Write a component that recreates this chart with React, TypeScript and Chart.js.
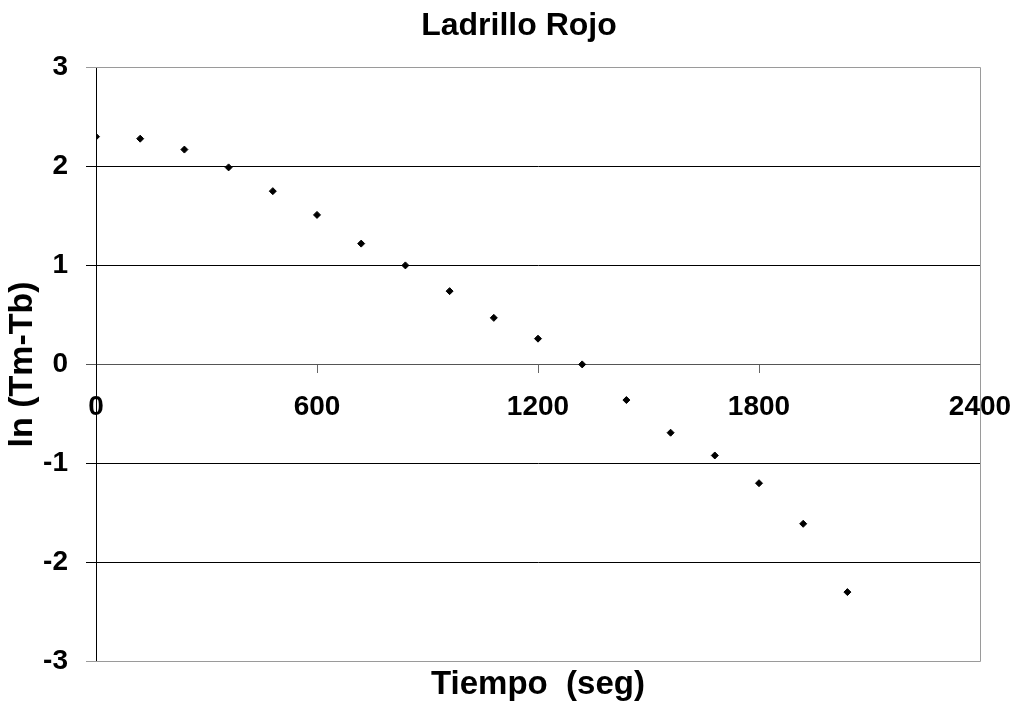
import React, { useEffect, useRef } from "react";
import { Chart, registerables } from "chart.js";

Chart.register(...registerables);

const TITLE = "Ladrillo Rojo";
const X_TITLE = "Tiempo  (seg)";
const Y_TITLE = "ln (Tm-Tb)";

const times = [0, 120, 240, 360, 480, 600, 720, 840, 960, 1080, 1200, 1320, 1440, 1560, 1680, 1800, 1920, 2040];
const lnValues = [2.3, 2.28, 2.17, 1.99, 1.75, 1.51, 1.22, 1.0, 0.74, 0.47, 0.26, 0.0, -0.36, -0.69, -0.92, -1.2, -1.61, -2.3];

const xMin = 0;
const xMax = 2400;
const xStep = 600;
const yMin = -3;
const yMax = 3;
const yStep = 1;

const FONT = "'Liberation Sans', Arial, Helvetica, sans-serif";

const framePlugin = {
  id: "frame",
  beforeDatasetsDraw(chart: any) {
    const { ctx, chartArea: a } = chart;
    const l = Math.round(a.left);
    const t = Math.round(a.top) + 0.5;
    const r = Math.round(a.right) + 0.5;
    const b = Math.round(a.bottom) + 0.5;
    ctx.save();
    ctx.strokeStyle = "#9a9a9a";
    ctx.lineWidth = 1;
    ctx.beginPath();
    ctx.moveTo(l, t);
    ctx.lineTo(r, t);
    ctx.lineTo(r, b);
    ctx.lineTo(l, b);
    ctx.stroke();
    ctx.restore();
  },
};

export default function App() {
  const ref = useRef<HTMLCanvasElement | null>(null);

  useEffect(() => {
    if (!ref.current) return;
    const chart = new Chart(ref.current, {
      type: "scatter",
      data: {
        datasets: [
          {
            label: Y_TITLE,
            data: times.map((t, i) => ({ x: t, y: lnValues[i] })),
            pointStyle: "rectRot",
            pointRadius: 3.5,
            borderWidth: 1,
            backgroundColor: "#000",
            borderColor: "#000",
            showLine: false,
          },
        ],
      },
      plugins: [framePlugin],
      options: {
        responsive: false,
        animation: false,
        devicePixelRatio: 1,
        layout: { padding: { left: 0, right: -18, top: 0, bottom: 0 } },
        plugins: {
          legend: { display: false },
          tooltip: { enabled: false },
          title: {
            display: true,
            text: TITLE,
            color: "#000",
            font: { family: FONT, size: 32, weight: "bold" },
            padding: { top: 7, bottom: 22 },
          },
          subtitle: {
            display: true,
            text: X_TITLE,
            position: "bottom",
            fullSize: false,
            color: "#000",
            font: { family: FONT, size: 33, weight: "bold" },
            padding: { top: 4, bottom: 5 },
          },
        },
        scales: {
          x: {
            type: "linear",
            position: { y: 0 },
            min: xMin,
            max: xMax,
            afterFit: (s: any) => {
              s.paddingLeft = 0;
              s.paddingRight = 0;
            },
            ticks: {
              stepSize: xStep,
              color: "#000",
              font: { family: FONT, size: 28, weight: "bold" },
              padding: 18,
              maxRotation: 0,
              callback: (v: any) => String(v),
            },
            grid: {
              drawOnChartArea: false,
              drawTicks: true,
              tickLength: 8,
              color: "#666",
            },
            border: { display: true, color: "#555", width: 1 },
          },
          y: {
            type: "linear",
            min: yMin,
            max: yMax,
            afterFit: (s: any) => {
              s.width = 96;
            },
            ticks: {
              stepSize: yStep,
              color: "#000",
              font: { family: FONT, size: 28, weight: "bold" },
              padding: 18,
            },
            grid: {
              drawTicks: true,
              tickLength: 10,
              color: (c: any) => {
                const v = c.tick ? c.tick.value : 0;
                if (v === yMax || v === yMin) return "#9a9a9a";
                if (v === 0) return "#555";
                return "#000";
              },
            },
            border: { display: true, color: "#000", width: 1 },
            title: {
              display: true,
              text: Y_TITLE,
              color: "#000",
              font: { family: FONT, size: 34, weight: "bold" },
              padding: { top: 2, bottom: 0 },
            },
          },
          yRight: {
            type: "linear",
            position: "right",
            display: true,
            min: yMin,
            max: yMax,
            afterFit: (s: any) => {
              s.width = 58;
            },
            ticks: { display: false },
            grid: { display: false, drawTicks: false },
            border: { display: false },
          },
        },
      },
    });
    return () => chart.destroy();
  }, []);

  return (
    <div style={{ position: "fixed", left: 0, top: 0, width: 1020, height: 710, background: "#fff" }}>
      <canvas ref={ref} width={1020} height={710} style={{ display: "block" }} />
    </div>
  );
}
